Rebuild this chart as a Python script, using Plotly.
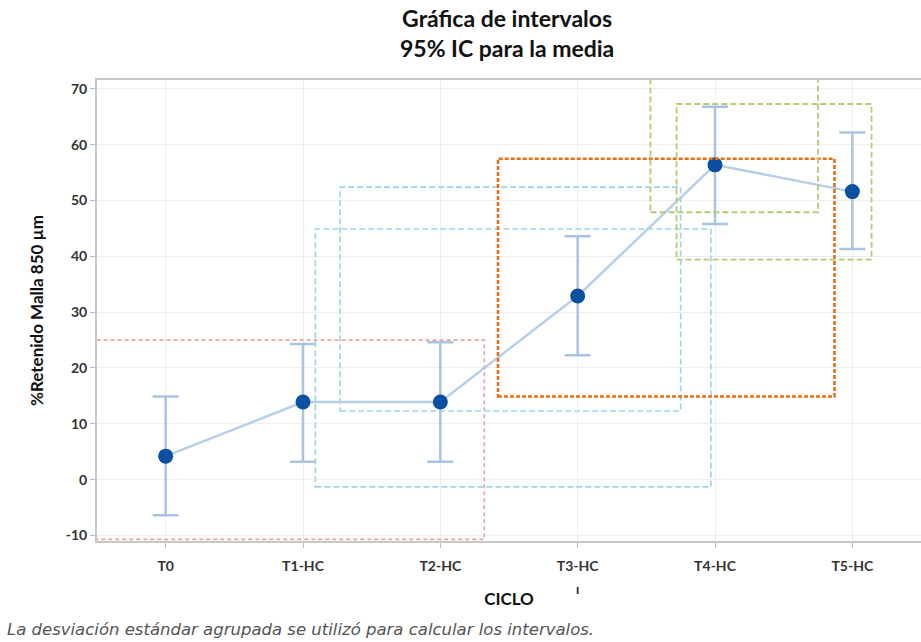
import plotly.graph_objects as go

# ---- data ----
categories = ["T0", "T1-HC", "T2-HC", "T3-HC", "T4-HC", "T5-HC"]
means = [4.2, 13.9, 13.9, 32.9, 56.4, 51.6]
ci_upper = [14.9, 24.3, 24.6, 43.6, 66.8, 62.2]
ci_lower = [-6.4, 3.2, 3.2, 22.3, 45.8, 41.3]
y_ticks = [-10, 0, 10, 20, 30, 40, 50, 60, 70]

# grouping boxes drawn over the chart (x in category index units, y in data units)
box_x0 = [-0.52, 1.09, 1.27, 2.42, 3.53, 3.72]
box_x1 = [2.32, 3.97, 3.75, 4.87, 4.75, 5.14]
box_y0 = [-10.7, -1.3, 12.3, 14.9, 47.9, 39.4]
box_y1 = [25.0, 44.9, 52.4, 57.5, 71.8, 67.3]
box_colors = ["#e9a3a3", "#9fd3e6", "#9fd3e6", "#ea6f13", "#b3cd76", "#b3cd76"]
box_widths = [1.6, 1.6, 1.6, 2.6, 1.8, 1.8]
box_dash = ["4px,3px", "6px,3px", "6px,3px", "4px,2px", "6px,3px", "6px,3px"]

x = list(range(len(categories)))
err_plus = [u - m for u, m in zip(ci_upper, means)]
err_minus = [m - l for m, l in zip(means, ci_lower)]

FONT = "Lato"
fig = go.Figure()
fig.add_trace(go.Scatter(
    x=x, y=means, mode="lines+markers",
    line=dict(color="#b7cfea", width=2.5),
    marker=dict(color="#0b4fa3", size=15),
    error_y=dict(type="data", symmetric=False, array=err_plus, arrayminus=err_minus,
                 color="#a9c3e3", thickness=2.5, width=13),
    showlegend=False,
))

for i in range(len(box_x0)):
    fig.add_shape(type="rect", xref="x", yref="y",
                  x0=box_x0[i], x1=box_x1[i], y0=box_y0[i], y1=box_y1[i],
                  line=dict(color=box_colors[i], width=box_widths[i], dash=box_dash[i]),
                  fillcolor="rgba(0,0,0,0)", layer="above")

fig.update_layout(
    width=921, height=642,
    margin=dict(l=97, r=0, t=80, b=101),
    paper_bgcolor="white", plot_bgcolor="white",
    font=dict(family=FONT, color="#333"),
    xaxis=dict(range=[-0.5, 5.5], tickvals=x, ticktext=[f"<b>{c}</b>" for c in categories],
               showgrid=True, gridcolor="#eeeeee", gridwidth=1,
               showline=True, linecolor="#c8c8c8", linewidth=2, mirror=True,
               ticks="outside", tickcolor="#bbbbbb", ticklen=5, ticklabelstandoff=6,
               tickfont=dict(size=14, color="#333"),
               title=dict(text="<b>CICLO</b>", font=dict(size=17, color="#111"), standoff=20),
               zeroline=False),
    yaxis=dict(range=[-11, 71.6], tickvals=y_ticks, ticktext=[f"<b>{t}</b>" for t in y_ticks],
               showgrid=True, gridcolor="#eeeeee", gridwidth=1,
               showline=True, linecolor="#c8c8c8", linewidth=2,
               ticks="outside", tickcolor="#bbbbbb", ticklen=5,
               tickfont=dict(size=14, color="#333"),
               title=dict(text="<b>%Retenido Malla 850 µm</b>", font=dict(size=17, color="#111"),
                          standoff=18),
               zeroline=False),
)

# title (two centred lines)
fig.add_annotation(text="<b>Gráfica de intervalos<br>95% IC para la media</b>",
                   xref="paper", yref="paper", x=0.498, y=1.102, xanchor="center", yanchor="middle",
                   showarrow=False, font=dict(size=23, color="#111", family=FONT))

fig.add_annotation(text="<i>La desviación estándar agrupada se utilizó para calcular los intervalos.</i>",
                   xref="paper", yref="paper", x=-0.112, y=-0.193, xanchor="left", yanchor="middle",
                   showarrow=False, font=dict(size=16.5, color="#555", family="DejaVu Sans"))
fig.add_annotation(text="<b>ı</b>", xref="x", yref="paper", x=3, y=-0.125,
                   showarrow=False, font=dict(size=13, color="#222", family=FONT))

fig.write_html("out.html")
